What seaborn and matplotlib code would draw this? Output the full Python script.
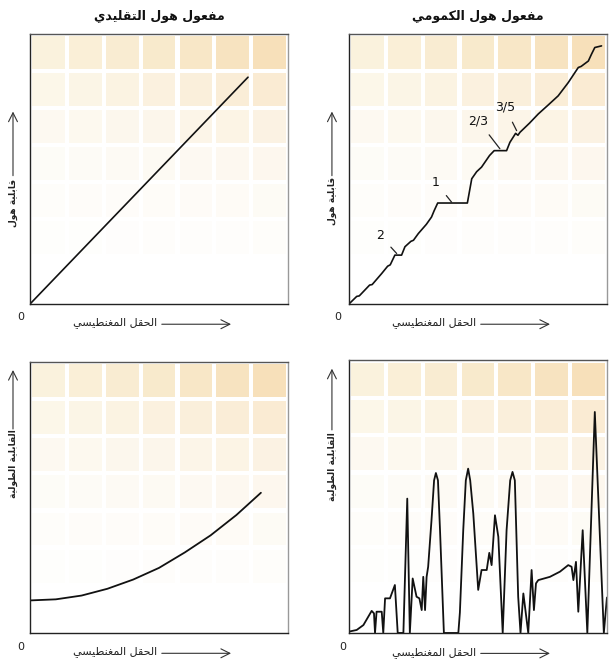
import matplotlib
matplotlib.use("Agg")
import matplotlib.pyplot as plt
from matplotlib.patches import Rectangle
import seaborn as sns
import pandas as pd

# ---- data (axes fractions 0..1) ----
classic_hall_x = [0.0, 0.845]
classic_hall_y = [0.0, 0.84]

quantum_hall_x = [0.0, 0.03, 0.04, 0.062, 0.08, 0.09, 0.127, 0.15, 0.16, 0.178,
                  0.204, 0.217, 0.24, 0.25, 0.269, 0.3, 0.32, 0.33, 0.344, 0.459,
                  0.476, 0.495, 0.514, 0.545, 0.563, 0.611, 0.624, 0.646, 0.655, 0.663,
                  0.7, 0.734, 0.77, 0.811, 0.85, 0.889, 0.9, 0.928, 0.94, 0.953, 0.979]
quantum_hall_y = [0.0, 0.028, 0.03, 0.052, 0.07, 0.072, 0.113, 0.14, 0.145, 0.181,
                  0.181, 0.212, 0.232, 0.236, 0.261, 0.295, 0.322, 0.345, 0.374, 0.374,
                  0.464, 0.49, 0.507, 0.55, 0.568, 0.568, 0.599, 0.632, 0.625, 0.636,
                  0.67, 0.704, 0.735, 0.771, 0.82, 0.876, 0.88, 0.9, 0.925, 0.95, 0.956]

classic_long_x = [0.0, 0.1, 0.2, 0.3, 0.4, 0.5, 0.6, 0.7, 0.8, 0.895]
classic_long_y = [0.12, 0.124, 0.138, 0.163, 0.197, 0.24, 0.297, 0.36, 0.435, 0.517]

quantum_long_x = [0.0, 0.03, 0.056, 0.088, 0.097, 0.101, 0.107, 0.127, 0.133, 0.14,
                  0.159, 0.178, 0.189, 0.211, 0.226, 0.236, 0.247, 0.262, 0.273, 0.282,
                  0.288, 0.295, 0.301, 0.307, 0.32, 0.33, 0.337, 0.345, 0.353, 0.368,
                  0.424, 0.43, 0.443, 0.453, 0.462, 0.47, 0.482, 0.501, 0.514, 0.534,
                  0.544, 0.553, 0.566, 0.579, 0.596, 0.611, 0.625, 0.634, 0.643, 0.656,
                  0.665, 0.676, 0.695, 0.708, 0.717, 0.725, 0.734, 0.779, 0.818, 0.85,
                  0.863, 0.87, 0.88, 0.889, 0.906, 0.924, 0.953, 0.988, 1.0]
quantum_long_y = [0.005, 0.011, 0.029, 0.081, 0.072, 0.0, 0.078, 0.078, 0.0, 0.127,
                  0.127, 0.176, 0.0, 0.0, 0.493, 0.0, 0.2, 0.133, 0.127, 0.084,
                  0.206, 0.084, 0.206, 0.243, 0.414, 0.56, 0.587, 0.56, 0.377, 0.0,
                  0.0, 0.075, 0.377, 0.56, 0.603, 0.56, 0.438, 0.158, 0.231, 0.231,
                  0.294, 0.249, 0.432, 0.353, 0.0, 0.377, 0.56, 0.591, 0.56, 0.133,
                  0.0, 0.145, 0.0, 0.231, 0.084, 0.182, 0.194, 0.206, 0.225, 0.249,
                  0.243, 0.194, 0.261, 0.078, 0.377, 0.0, 0.811, 0.0, 0.13]

plateau_labels = ["2", "1", "2/3", "3/5"]
plateau_text_xy = [(0.12, 0.255), (0.336, 0.451), (0.501, 0.679), (0.605, 0.728)]
plateau_point_xy = [(0.185, 0.187), (0.398, 0.377), (0.585, 0.575), (0.65, 0.642)]

title_classic = "مفعول هول التقليدي"
title_quantum = "مفعول هول الكمومي"
xlabel_text = "الحقل المغنطيسي"
ylabel_hall = "قابلية هول"
ylabel_long = "القابلية الطولية"

# ---- minimal Arabic shaping (matplotlib has no text shaping) ----
FORMS = {
    "ا": ("\uFE8D", "\uFE8E", None, None),
    "ب": ("\uFE8F", "\uFE90", "\uFE91", "\uFE92"),
    "ة": ("\uFE93", "\uFE94", None, None),
    "ت": ("\uFE95", "\uFE96", "\uFE97", "\uFE98"),
    "ح": ("\uFEA1", "\uFEA2", "\uFEA3", "\uFEA4"),
    "د": ("\uFEA9", "\uFEAA", None, None),
    "س": ("\uFEB1", "\uFEB2", "\uFEB3", "\uFEB4"),
    "ط": ("\uFEC1", "\uFEC2", "\uFEC3", "\uFEC4"),
    "ع": ("\uFEC9", "\uFECA", "\uFECB", "\uFECC"),
    "غ": ("\uFECD", "\uFECE", "\uFECF", "\uFED0"),
    "ف": ("\uFED1", "\uFED2", "\uFED3", "\uFED4"),
    "ق": ("\uFED5", "\uFED6", "\uFED7", "\uFED8"),
    "ك": ("\uFED9", "\uFEDA", "\uFEDB", "\uFEDC"),
    "ل": ("\uFEDD", "\uFEDE", "\uFEDF", "\uFEE0"),
    "م": ("\uFEE1", "\uFEE2", "\uFEE3", "\uFEE4"),
    "ن": ("\uFEE5", "\uFEE6", "\uFEE7", "\uFEE8"),
    "ه": ("\uFEE9", "\uFEEA", "\uFEEB", "\uFEEC"),
    "و": ("\uFEED", "\uFEEE", None, None),
    "ي": ("\uFEF1", "\uFEF2", "\uFEF3", "\uFEF4"),
}


def ar(text):
    out = []
    for i, ch in enumerate(text):
        if ch not in FORMS:
            out.append(ch)
            continue
        prev = text[i - 1] if i > 0 else ""
        nxt = text[i + 1] if i + 1 < len(text) else ""
        join_prev = prev in FORMS and FORMS[prev][2] is not None
        join_next = FORMS[ch][2] is not None and nxt in FORMS
        iso, fin, ini, med = FORMS[ch]
        if join_prev and join_next:
            out.append(med)
        elif join_prev:
            out.append(fin)
        elif join_next:
            out.append(ini)
        else:
            out.append(iso)
    return "".join(out)[::-1]


sns.set_style("white")
plt.rcParams["font.family"] = ["DejaVu Sans"]

fig = plt.figure(figsize=(6.09, 6.63), dpi=100)
ax_tl = fig.add_axes([0.0493, 0.5415, 0.4236, 0.4072])
ax_tr = fig.add_axes([0.573, 0.5415, 0.4236, 0.4072])
ax_bl = fig.add_axes([0.0493, 0.0453, 0.4236, 0.409])
ax_br = fig.add_axes([0.573, 0.0453, 0.4236, 0.411])

tile_rows = [0.6, 0.38, 0.24, 0.14, 0.08, 0.04, 0.0]


def decorate(ax, x0=-0.035):
    # faded yellow tiles from the printed background
    for r, a in enumerate(tile_rows):
        for c in range(7):
            alpha = a * (0.55 + 0.45 * c / 6)
            if alpha <= 0:
                continue
            col = (0.95, 0.85 - 0.05 * c / 6, 0.6 - 0.05 * c / 6)
            ax.add_patch(Rectangle((c / 7 + 0.008, 1 - (r + 1) * 0.137 + 0.008),
                                   1 / 7 - 0.016, 0.137 - 0.016,
                                   transform=ax.transAxes, color=col, alpha=alpha,
                                   lw=0, zorder=0))
    ax.set_xlim(0, 1)
    ax.set_ylim(0, 1)
    ax.set_xticks([])
    ax.set_yticks([])
    for side, colr in [("left", "#222222"), ("bottom", "#222222"),
                       ("top", "#555555"), ("right", "#999999")]:
        ax.spines[side].set_color(colr)
        ax.spines[side].set_linewidth(1.0)
    ax.text(x0, -0.05, "0", transform=ax.transAxes, ha="center", va="center",
            fontsize=8, color="#222222")
    ax.text(0.33, -0.07, ar(xlabel_text), transform=ax.transAxes, ha="center",
            va="center", fontsize=8, color="#222222")
    ax.annotate("", xy=(0.79, -0.075), xytext=(0.5, -0.075), xycoords="axes fraction",
                annotation_clip=False,
                arrowprops=dict(arrowstyle="->", lw=0.8, color="#333333",
                                mutation_scale=16))
    return ax


def draw_curve(ax, xs, ys, lw):
    df = pd.DataFrame({"B": xs, "R": ys})
    sns.lineplot(data=df, x="B", y="R", ax=ax, color="#111111", lw=lw,
                 estimator=None, sort=False)
    ax.set_xlabel("")
    ax.set_ylabel("")


decorate(ax_tl)
draw_curve(ax_tl, classic_hall_x, classic_hall_y, 1.2)

decorate(ax_tr, x0=-0.045)
draw_curve(ax_tr, quantum_hall_x, quantum_hall_y, 1.2)
for lab, txy, pxy in zip(plateau_labels, plateau_text_xy, plateau_point_xy):
    ax_tr.annotate(lab, xy=pxy, xytext=txy, fontsize=9, ha="center", va="center",
                   color="#111111",
                   arrowprops=dict(arrowstyle="-", lw=0.9, color="#222222",
                                   shrinkA=4, shrinkB=0))

decorate(ax_bl)
draw_curve(ax_bl, classic_long_x, classic_long_y, 1.3)

decorate(ax_br, x0=-0.025)
draw_curve(ax_br, quantum_long_x, quantum_long_y, 1.3)

# titles
for ax, t in [(ax_tl, title_classic), (ax_tr, title_quantum)]:
    ax.text(0.5, 1.065, ar(t), transform=ax.transAxes, ha="center", va="center",
            fontsize=9, fontweight="bold", color="#111111")

# y labels with upward arrows
for ax, lab, ty, a0, a1 in [(ax_tl, ylabel_hall, 0.375, 0.465, 0.723),
                            (ax_tr, ylabel_hall, 0.38, 0.465, 0.723),
                            (ax_bl, ylabel_long, 0.625, 0.742, 0.98),
                            (ax_br, ylabel_long, 0.61, 0.735, 0.98)]:
    xa = -0.066
    ax.text(xa, ty, ar(lab), transform=ax.transAxes, rotation=90, ha="center",
            va="center", fontsize=6.5, fontweight="bold", color="#222222")
    ax.annotate("", xy=(xa, a1), xytext=(xa, a0), xycoords="axes fraction",
                annotation_clip=False,
                arrowprops=dict(arrowstyle="->", lw=0.8, color="#333333",
                                mutation_scale=16))

fig.savefig("out.png", dpi=100)
